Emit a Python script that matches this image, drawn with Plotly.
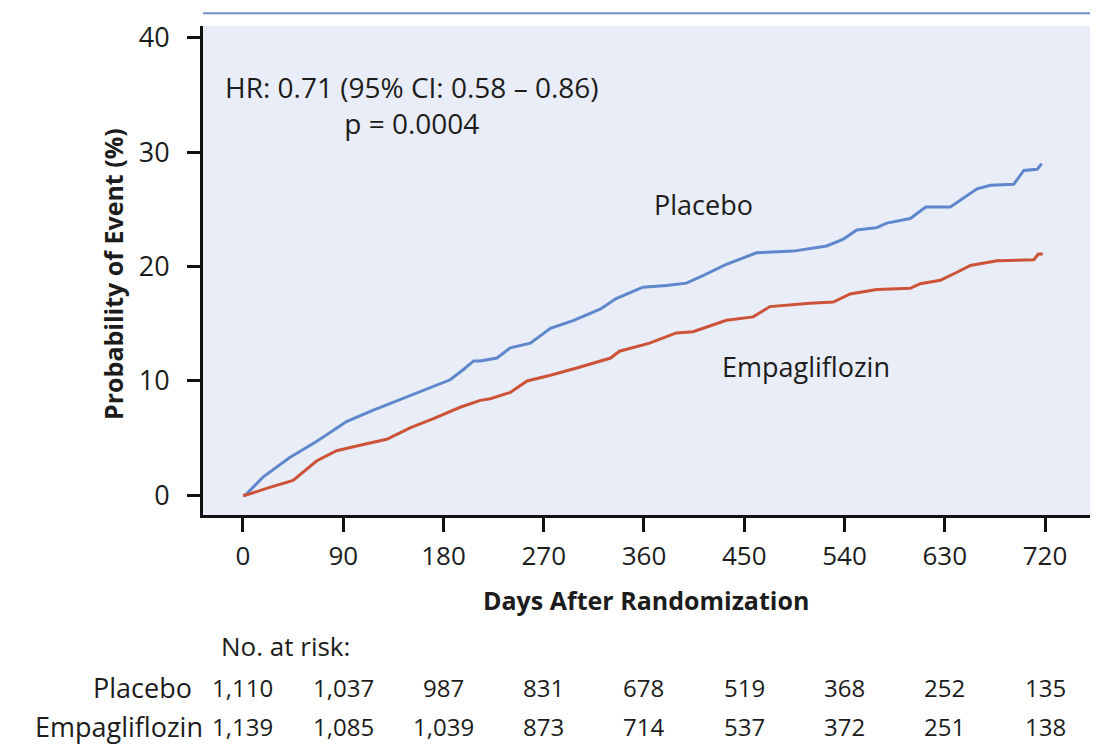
import plotly.graph_objects as go

# ---- data ----
placebo_days = [0, 2, 18, 42, 66, 93, 117, 144, 171, 186, 198, 207, 213, 228, 240, 258, 276, 297, 321, 335,
                359, 380, 398, 413, 434, 461, 494, 524, 539, 551, 569, 578, 599, 613, 635, 644, 659, 671,
                692, 701, 713, 717]
placebo_pct = [0, 0, 1.6, 3.3, 4.7, 6.45, 7.45, 8.46, 9.5, 10.1, 11.0, 11.75, 11.75, 12.0, 12.9, 13.3, 14.6,
               15.3, 16.3, 17.2, 18.2, 18.35, 18.55, 19.2, 20.2, 21.2, 21.35, 21.8, 22.4, 23.2, 23.4, 23.8,
               24.2, 25.2, 25.2, 25.8, 26.8, 27.1, 27.2, 28.4, 28.5, 29.0]

empa_days = [0, 2, 24, 45, 66, 84, 108, 129, 150, 171, 195, 213, 222, 240, 255, 276, 302, 330, 338, 365,
             389, 404, 434, 458, 473, 509, 530, 545, 569, 599, 608, 626, 641, 653, 677, 710, 714, 718]
empa_pct = [0, 0, 0.7, 1.3, 3.0, 3.9, 4.45, 4.9, 5.9, 6.7, 7.7, 8.3, 8.45, 9.0, 10.0, 10.5, 11.2, 12.0,
            12.6, 13.3, 14.2, 14.3, 15.3, 15.6, 16.5, 16.8, 16.9, 17.6, 18.0, 18.1, 18.5, 18.8, 19.5,
            20.1, 20.5, 20.6, 21.1, 21.1]

x_ticks = [0, 90, 180, 270, 360, 450, 540, 630, 720]
y_ticks = [0, 10, 20, 30, 40]
risk_placebo = ["1,110", "1,037", "987", "831", "678", "519", "368", "252", "135"]
risk_empa = ["1,139", "1,085", "1,039", "873", "714", "537", "372", "251", "138"]

BLUE = "#5f87cc"
RED = "#cc5238"
BG = "#e9edf7"
TXT = "#1c1c1c"
FONT = "Open Sans"

fig = go.Figure()
fig.add_trace(go.Scatter(x=placebo_days, y=placebo_pct, mode="lines",
                         line=dict(color=BLUE, width=3), name="Placebo"))
fig.add_trace(go.Scatter(x=empa_days, y=empa_pct, mode="lines",
                         line=dict(color=RED, width=3), name="Empagliflozin"))

# page has an 8px body margin; figure placed so that plot area spans x 203..1090, y 18..515 on the page
OFF = 8
W, H = 1094, 740
L, R, T, B = 203 - OFF, 12, 18 - OFF, 233
ph = H - T - B
pw = W - L - R
PLOT_L, PLOT_B = 203, 515


def py(pix):
    return (PLOT_B - pix) / ph


def px(pix):
    return (pix - PLOT_L) / pw


def f(size):
    return dict(size=size, color=TXT, family=FONT)


ann = []
ann.append(dict(x=152, y=34.15, xref="x", yref="y",
                text="HR: 0.71 (95% CI: 0.58 \u2013 0.86)<br>p = 0.0004",
                align="center", showarrow=False, font=f(28)))
ann.append(dict(x=413, y=25.4, xref="x", yref="y", text="Placebo",
                showarrow=False, font=f(27)))
ann.append(dict(x=505, y=11.25, xref="x", yref="y", text="Empagliflozin",
                showarrow=False, font=f(27)))
ann.append(dict(x=px(646), y=py(601), xref="paper", yref="paper", text="<b>Days After Randomization</b>",
                xanchor="center", yanchor="middle", showarrow=False, font=f(25)))
ann.append(dict(x=px(113), y=py(270), xref="paper", yref="paper", text="<b>Probability of Event (%)</b>",
                xanchor="center", yanchor="middle", textangle=-90, showarrow=False, font=f(25)))
ann.append(dict(x=px(219), y=py(648), xref="paper", yref="paper", text="No. at risk:", xanchor="left",
                yanchor="middle", showarrow=False, font=f(26)))
ann.append(dict(x=px(194), y=py(690), xref="paper", yref="paper", text="Placebo", xanchor="right",
                yanchor="middle", showarrow=False, font=f(27)))
ann.append(dict(x=px(205), y=py(730), xref="paper", yref="paper", text="Empagliflozin", xanchor="right",
                yanchor="middle", showarrow=False, font=f(27)))
for d, a, b in zip(x_ticks, risk_placebo, risk_empa):
    ann.append(dict(x=d, y=py(690), xref="x", yref="paper", text=a, showarrow=False,
                    xanchor="center", yanchor="middle", font=f(24)))
    ann.append(dict(x=d, y=py(730), xref="x", yref="paper", text=b, showarrow=False,
                    xanchor="center", yanchor="middle", font=f(24)))

fig.update_layout(
    width=W, height=H,
    margin=dict(l=L, r=R, t=T, b=B, pad=0),
    paper_bgcolor="white", plot_bgcolor=BG,
    showlegend=False,
    annotations=ann,
    shapes=[dict(type="line", xref="paper", yref="paper", x0=0, x1=1, y0=py(5), y1=py(5),
                 line=dict(color="#6f8fcc", width=2))],
    font=dict(family=FONT, color=TXT),
)
fig.update_xaxes(range=[-35.9, 760.4], tickvals=x_ticks, ticktext=[str(v) for v in x_ticks],
                 showgrid=False, zeroline=False, showline=True, linecolor="#111", linewidth=3,
                 ticks="outside", ticklen=14, tickwidth=3, tickcolor="#111",
                 tickfont=f(26), ticklabelstandoff=2)
fig.update_yaxes(range=[-1.72, 41.03], tickvals=y_ticks, ticktext=[str(v) for v in y_ticks],
                 showgrid=False, zeroline=False, showline=True, linecolor="#111", linewidth=3,
                 ticks="outside", ticklen=13, tickwidth=3, tickcolor="#111",
                 tickfont=f(27), ticklabelstandoff=12)

fig.write_html("out.html")
